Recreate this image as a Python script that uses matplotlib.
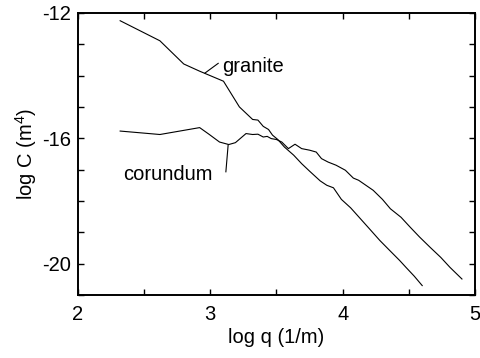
import matplotlib
matplotlib.use('Agg')
import matplotlib.pyplot as plt

plt.rcParams['font.family'] = ['Liberation Sans', 'DejaVu Sans']
plt.rcParams['mathtext.fontset'] = 'custom'
plt.rcParams['mathtext.rm'] = 'Liberation Sans'

# granite spectrum (log q, log C)
granite_logq = [2.32, 2.62, 2.80, 2.92, 3.10, 3.22, 3.32, 3.36, 3.40, 3.44, 3.47, 3.51,
                3.56, 3.63, 3.69, 3.75, 3.83, 3.88, 3.93, 3.99, 4.06, 4.13, 4.20, 4.28,
                4.35, 4.43, 4.48, 4.54, 4.60]
granite_logC = [-12.25, -12.89, -13.63, -13.86, -14.18, -15.00, -15.40, -15.42, -15.62, -15.72,
                -15.90, -16.04, -16.28, -16.54, -16.81, -17.05, -17.36, -17.50, -17.58, -17.95,
                -18.22, -18.55, -18.88, -19.26, -19.56, -19.90, -20.13, -20.40, -20.70]

# corundum spectrum (log q, log C)
corundum_logq = [2.32, 2.62, 2.92, 2.99, 3.07, 3.14, 3.19, 3.27, 3.32, 3.36, 3.40, 3.43,
                 3.46, 3.50, 3.54, 3.59, 3.64, 3.69, 3.75, 3.80, 3.84, 3.89, 3.95, 4.02,
                 4.08, 4.12, 4.23, 4.30, 4.36, 4.44, 4.51, 4.58, 4.66, 4.74, 4.81, 4.90]
corundum_logC = [-15.77, -15.88, -15.66, -15.87, -16.12, -16.20, -16.14, -15.85, -15.88, -15.87,
                 -15.96, -15.94, -16.01, -16.04, -16.12, -16.33, -16.19, -16.33, -16.38, -16.44,
                 -16.65, -16.76, -16.86, -17.02, -17.27, -17.34, -17.66, -17.95, -18.25, -18.52,
                 -18.84, -19.15, -19.48, -19.80, -20.12, -20.49]

xticks = [2, 2.5, 3, 3.5, 4, 4.5, 5]
xticklabels = ['2', '', '3', '', '4', '', '5']
yticks = [-21, -20, -19, -18, -17, -16, -15, -14, -13, -12]
yticklabels = ['', '-20', '', '', '', '-16', '', '', '', '-12']

FS = 14.5

fig = plt.figure(figsize=(4.8, 3.58), dpi=100)
ax = fig.add_axes([0.162, 0.176, 0.828, 0.788])

ax.plot(granite_logq, granite_logC, color='black', linewidth=0.8)
ax.plot(corundum_logq, corundum_logC, color='black', linewidth=0.8)

# labels with leader lines
ax.plot([2.96, 3.06], [-13.92, -13.61], color='black', linewidth=0.8)
ax.text(3.09, -13.88, 'granite', fontsize=FS, va='baseline', ha='left')
ax.plot([3.135, 3.118], [-16.22, -17.07], color='black', linewidth=0.8)
ax.text(2.344, -17.34, 'corundum', fontsize=FS, va='baseline', ha='left')

ax.set_xlim(2, 5)
ax.set_ylim(-21, -12)
ax.set_xticks(xticks)
ax.set_xticklabels(xticklabels)
ax.set_yticks(yticks)
ax.set_yticklabels(yticklabels)
ax.tick_params(axis='both', direction='in', length=4, width=1, labelsize=FS,
               top=True, right=True)
ax.tick_params(axis='x', pad=7)
ax.tick_params(axis='y', pad=5)
for spine in ax.spines.values():
    spine.set_linewidth(1.4)

ax.set_xlabel('log q (1/m)', fontsize=FS, labelpad=3)
ax.set_ylabel('log C (m$^{\\mathregular{4}}$)', fontsize=FS, labelpad=2)

plt.savefig('out.png', dpi=100)
